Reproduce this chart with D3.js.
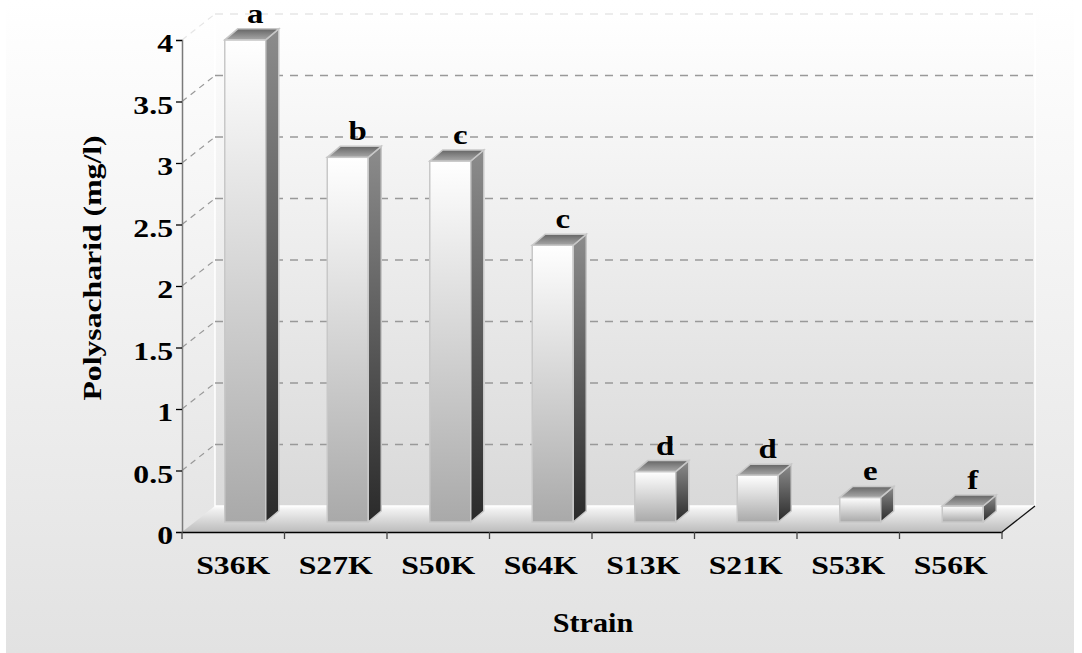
<!DOCTYPE html>
<html>
<head>
<meta charset="utf-8">
<script src="https://cdn.jsdelivr.net/npm/d3@7"></script>
<style>
  body { margin: 0; background: #fff; }
</style>
</head>
<body>
<svg id="chart" width="1082" height="653"></svg>
<script>
// chart data
const strains = ["S36K", "S27K", "S50K", "S64K", "S13K", "S21K", "S53K", "S56K"];
const polysaccharide = [3.92, 2.965, 2.935, 2.25, 0.41, 0.38, 0.20, 0.13];
const letters = ["a", "b", "c", "c", "d", "d", "e", "f"];
const yTicks = [0, 0.5, 1, 1.5, 2, 2.5, 3, 3.5, 4];

const FONT = "'Liberation Serif', 'Times New Roman', serif";
const STRETCH = "scale(1.22,1)";   // the original lettering is wide

const svg = d3.select("#chart");
const width = +svg.attr("width"), height = +svg.attr("height");

// 3d offsets: wall depth, bar plane and bar depth
const depth = [33, -26];
const plane = [12, -10];
const barDepth = [13, -11];

const x = d3.scaleBand().domain(strains).range([182, 1002]).padding(0);
const y = d3.scaleLinear().domain([0, 4]).range([532, 40]);
const barW = 41;

const defs = svg.append("defs");
function grad(id, stops, x2, y2) {
    const g = defs.append("linearGradient").attr("id", id)
        .attr("x1", 0).attr("y1", 0).attr("x2", x2).attr("y2", y2);
    stops.forEach(s => g.append("stop").attr("offset", s[0]).attr("stop-color", s[1]));
}
grad("bg", [[0, "#ffffff"], [1, "#e2e2e2"]], 0, 1);
grad("wall", [[0, "#ffffff"], [1, "#d9d9d9"]], 0, 1);
grad("side", [[0, "#ffffff"], [1, "#e4e4e4"]], 0, 1);
grad("floor", [[0, "#ffffff"], [0.15, "#f0f0f0"], [1, "#bcbcbc"]], 0, 1);
grad("front", [[0, "#ffffff"], [1, "#a9a9a9"]], 0, 1);
grad("sideFace", [[0, "#8c8c8c"], [1, "#2a2a2a"]], 0, 1);
grad("topFace", [[0, "#656565"], [1, "#a8a8a8"]], 0, 1);

// background
svg.append("rect").attr("x", 6).attr("y", 0).attr("width", 1068).attr("height", height)
    .attr("fill", "url(#bg)");

const x0 = x.range()[0], x1 = x.range()[1];
const yTop = y(4), yBot = y(0);
const pts = a => a.map(p => p.join(",")).join(" ");

// left side wall
svg.append("polygon")
    .attr("points", pts([[x0, yTop], [x0 + depth[0], yTop + depth[1]], [x0 + depth[0], yBot + depth[1]], [x0, yBot]]))
    .attr("fill", "url(#side)");
// back wall
svg.append("rect")
    .attr("x", x0 + depth[0]).attr("y", yTop + depth[1])
    .attr("width", x1 - x0).attr("height", yBot - yTop)
    .attr("fill", "url(#wall)")
    .attr("stroke", "#ffffff").attr("stroke-width", 1.5);

// gridlines on back and side walls
const grid = svg.append("g");
yTicks.filter(v => v > 0).forEach(v => {
    const col = v === 4 ? "#e6e6e6" : "#999999";
    grid.append("line")
        .attr("x1", x0 + depth[0]).attr("x2", x1 + depth[0])
        .attr("y1", y(v) + depth[1]).attr("y2", y(v) + depth[1])
        .attr("stroke", col).attr("stroke-width", 1.3).attr("stroke-dasharray", "8,7");
    grid.append("line")
        .attr("x1", x0).attr("x2", x0 + depth[0])
        .attr("y1", y(v)).attr("y2", y(v) + depth[1])
        .attr("stroke", col).attr("stroke-width", 1.2).attr("stroke-dasharray", "6,5");
});

// floor
svg.append("polygon")
    .attr("points", pts([[x0, yBot], [x1, yBot], [x1 + depth[0], yBot + depth[1]], [x0 + depth[0], yBot + depth[1]]]))
    .attr("fill", "url(#floor)");
svg.append("line")
    .attr("x1", x1).attr("y1", yBot).attr("x2", x1 + depth[0]).attr("y2", yBot + depth[1])
    .attr("stroke", "#111").attr("stroke-width", 1.3);

// y axis
const yAxis = svg.append("g").attr("transform", `translate(${x0},0)`)
    .call(d3.axisLeft(y).tickValues(yTicks).tickSize(6).tickPadding(8).tickFormat(d3.format("")));
yAxis.attr("font-family", FONT).attr("font-weight", "bold");
yAxis.select(".domain").attr("stroke", "#7a7a7a").attr("stroke-width", 1.5);
yAxis.selectAll(".tick line").attr("stroke", "#000").attr("stroke-width", 1.3);
yAxis.selectAll(".tick text").attr("font-size", 26).attr("fill", "#000")
    .attr("x", 0).attr("dy", "0.46em")
    .attr("transform", `translate(-9,0) ${STRETCH}`);

// x axis
const xAxis = svg.append("g").attr("transform", `translate(0,${yBot})`)
    .call(d3.axisBottom(x).tickSize(0).tickPadding(24));
xAxis.attr("font-family", FONT).attr("font-weight", "bold");
xAxis.select(".domain").attr("stroke", "#000").attr("stroke-width", 1.5);
xAxis.selectAll(".tick text").attr("font-size", 26).attr("fill", "#000")
    .attr("transform", STRETCH);
// boundary ticks between categories
xAxis.selectAll(".bound").data(strains.concat([null])).enter().append("line")
    .attr("x1", (d, i) => x0 + i * x.bandwidth()).attr("x2", (d, i) => x0 + i * x.bandwidth())
    .attr("y1", 0).attr("y2", 7)
    .attr("stroke", "#444").attr("stroke-width", 1.3);

// bars
const bars = svg.append("g").selectAll("g").data(strains).enter().append("g");
bars.each(function(s, i) {
    const g = d3.select(this);
    const bx = x(s) + (x.bandwidth() - barW) / 2 + plane[0];
    const by0 = y(0) + plane[1];
    const by1 = y(polysaccharide[i]) + plane[1];
    const [dx, dy] = barDepth;
    g.append("rect").attr("x", bx).attr("y", by1).attr("width", barW).attr("height", by0 - by1)
        .attr("fill", "url(#front)").attr("stroke", "#c8c8c8").attr("stroke-width", 1.5);
    g.append("polygon")
        .attr("points", pts([[bx + barW, by1], [bx + barW + dx, by1 + dy], [bx + barW + dx, by0 + dy], [bx + barW, by0]]))
        .attr("fill", "url(#sideFace)").attr("stroke", "#c8c8c8").attr("stroke-width", 1.5);
    g.append("polygon")
        .attr("points", pts([[bx, by1], [bx + dx, by1 + dy], [bx + barW + dx, by1 + dy], [bx + barW, by1]]))
        .attr("fill", "url(#topFace)").attr("stroke", "#c8c8c8").attr("stroke-width", 1.5);
    g.append("text")
        .attr("transform", `translate(${bx + barW / 2 + 10},${by1 - 17}) ${STRETCH}`)
        .attr("text-anchor", "middle").attr("font-size", 27).attr("fill", "#000")
        .attr("font-family", FONT).attr("font-weight", "bold")
        .text(letters[i]);
});

// axis titles
svg.append("text")
    .attr("transform", `translate(101,268) rotate(-90) ${STRETCH}`)
    .attr("text-anchor", "middle").attr("font-size", 26).attr("fill", "#000")
    .attr("font-family", FONT).attr("font-weight", "bold")
    .text("Polysacharid (mg/l)");
svg.append("text")
    .attr("transform", "translate(593,632) scale(1.12,1)")
    .attr("text-anchor", "middle").attr("font-size", 27).attr("fill", "#000")
    .attr("font-family", FONT).attr("font-weight", "bold")
    .text("Strain");
</script>
</body>
</html>
